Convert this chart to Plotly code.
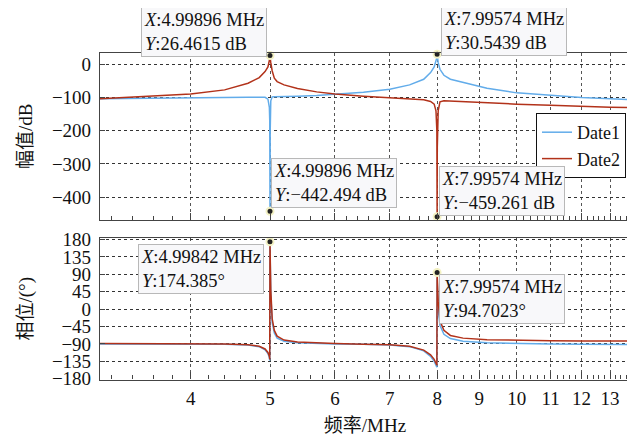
import math
import plotly.graph_objects as go
from plotly.subplots import make_subplots

# ---------------- data ----------------
freq_mhz = [3.1, 3.5, 4.0, 4.4, 4.7, 4.85, 4.93, 4.97, 4.99, 4.995, 4.99842, 4.99896,
            5.002, 5.01, 5.03, 5.06, 5.1, 5.2, 5.4, 5.7, 6.0, 6.5, 7.0, 7.4, 7.7,
            7.85, 7.93, 7.97, 7.99, 7.99574, 8.0, 8.02, 8.06, 8.15, 8.3, 8.6, 9.2,
            10.0, 11.0, 12.0, 13.0, 13.75]

mag_date1 = [-104, -102, -100, -99.5, -99, -99, -99.5, -105, -130, -170, -300, -442.494,
             -200, -110, -98, -97.5, -97.5, -97, -96, -94, -90, -84, -75, -62, -45,
             -25, -8, 8, 20, 30.5439, 20, 5, -15, -33, -45, -55, -72,
             -86, -94, -100, -104, -106]

mag_date2 = [-104, -98, -89.5, -77, -57, -40, -22, -8, 8, 17, 24, 26.4615,
             18, 5, -20, -42, -52, -62, -73, -83, -89.5, -96, -101, -104, -107,
             -112, -120, -140, -200, -459.261, -250, -140, -113, -110, -111, -113, -116,
             -120, -123, -127, -129, -130]

phase_date1 = [-90, -90, -90.5, -91, -93, -97, -105, -115, -125, -133, 168, 163,
               120, 40, -35, -62, -75, -83, -87, -89, -90, -91, -93, -97, -108,
               -122, -135, -145, -150, 80, 60, 0, -42, -65, -76, -83, -87,
               -89, -90, -91, -91, -91.5]

phase_date2 = [-89, -89, -89.5, -90, -92, -96, -103, -112, -122, -130, 174.385, 168,
               125, 50, -25, -55, -70, -80, -85, -87.5, -89, -90.5, -92, -96, -106,
               -118, -130, -140, -145, 94.7023, 75, 20, -30, -55, -68, -75, -79,
               -81, -82, -82.5, -82.5, -82.5]

# data tips (frequency, value, panel, text)
tip_freq = [4.99896, 7.99574, 4.99896, 7.99574, 4.99842, 7.99574]
tip_value = [26.4615, 30.5439, -442.494, -459.261, 174.385, 94.7023]
tip_panel = [1, 1, 1, 1, 2, 2]
tip_text = ["<i>X</i>:4.99896 MHz<br><i>Y</i>:26.4615 dB",
            "<i>X</i>:7.99574 MHz<br><i>Y</i>:30.5439 dB",
            "<i>X</i>:4.99896 MHz<br><i>Y</i>:\u2212442.494 dB",
            "<i>X</i>:7.99574 MHz<br><i>Y</i>:\u2212459.261 dB",
            "<i>X</i>:4.99842 MHz<br><i>Y</i>:174.385\u00b0",
            "<i>X</i>:7.99574 MHz<br><i>Y</i>:94.7023\u00b0"]

x_ticks = [4, 5, 6, 7, 8, 9, 10, 11, 12, 13]
mag_ticks = [0, -100, -200, -300, -400]
phase_ticks = [180, 135, 90, 45, 0, -45, -90, -135, -180]
series_names = ["Date1", "Date2"]

# ---------------- style ----------------
BLUE = "#62ACEA"
RED = "#B2321A"
FONT = "Liberation Serif, Noto Sans CJK SC"
FS = 19
# the page body adds an 8 px offset, so the figure is 8 px smaller on each axis
W, H = 627, 431

fig = make_subplots(rows=2, cols=1, shared_xaxes=False)

fig.add_trace(go.Scatter(x=freq_mhz, y=mag_date1, mode="lines", name=series_names[0],
                         line=dict(color=BLUE, width=1.5)), row=1, col=1)
fig.add_trace(go.Scatter(x=freq_mhz, y=mag_date2, mode="lines", name=series_names[1],
                         line=dict(color=RED, width=1.5)), row=1, col=1)
fig.add_trace(go.Scatter(x=freq_mhz, y=phase_date1, mode="lines", showlegend=False,
                         line=dict(color=BLUE, width=1.5)), row=2, col=1)
fig.add_trace(go.Scatter(x=freq_mhz, y=phase_date2, mode="lines", showlegend=False,
                         line=dict(color=RED, width=1.5)), row=2, col=1)

for p in (1, 2):
    fx = [f for f, pp in zip(tip_freq, tip_panel) if pp == p]
    fy = [v for v, pp in zip(tip_value, tip_panel) if pp == p]
    fig.add_trace(go.Scatter(x=fx, y=fy, mode="markers", showlegend=False, cliponaxis=False,
                             marker=dict(color="#222222", size=7,
                                         line=dict(color="#F4F2C4", width=2))),
                  row=p, col=1)

# annotation placement (style only)
place = [("right", "bottom", -3, -1),
         ("left", "bottom", 4, -2),
         ("left", "bottom", 1, 3),
         ("left", "bottom", 2, 1),
         ("right", "top", -6, -2),
         ("left", "top", 2, -1)]
for f, v, p, t, (xa, ya, xs, ys) in zip(tip_freq, tip_value, tip_panel, tip_text, place):
    fig.add_annotation(x=math.log10(f), y=v, xref="x" if p == 1 else "x2",
                       yref="y" if p == 1 else "y2", text=t, showarrow=False,
                       xanchor=xa, yanchor=ya, xshift=xs, yshift=ys, align="left",
                       font=dict(family=FONT, size=18.5, color="#111111"),
                       bgcolor="#F8F8FA", bordercolor="#B8B8B8", borderwidth=1, borderpad=2)

minor_vals = [round(3.2 + 0.2 * i, 1) for i in range(53)]
minor_vals = [m for m in minor_vals if abs(m - round(m)) > 1e-6]

xrange = [math.log10(3.1), math.log10(13.75)]
common_x = dict(type="log", range=xrange, tickvals=x_ticks, ticktext=[str(t) for t in x_ticks],
                showline=True, mirror=True, linecolor="#444444", linewidth=1.2,
                ticks="inside", ticklen=7, tickcolor="#444444",
                showgrid=True, gridcolor="#555555", griddash="dot", gridwidth=1,
                zeroline=False, automargin=False,
                minor=dict(tickvals=minor_vals, ticks="inside", ticklen=4, tickcolor="#444444",
                           showgrid=False),
                tickfont=dict(family=FONT, size=FS, color="#111111"))
fig.update_xaxes(**common_x)
fig.update_xaxes(showticklabels=False, row=1, col=1)
fig.update_xaxes(ticklabelstandoff=2, title=dict(text="频率/MHz", standoff=10,
                 font=dict(family=FONT, size=FS, color="#111111")), row=2, col=1)

common_y = dict(showline=True, mirror=True, linecolor="#444444", linewidth=1.2,
                ticks="inside", ticklen=5, tickcolor="#444444",
                showgrid=True, gridcolor="#333333", griddash="dot", gridwidth=1,
                zeroline=False, automargin=False, ticklabelstandoff=4,
                tickfont=dict(family=FONT, size=FS, color="#111111"))
fig.update_yaxes(**common_y)
fig.update_yaxes(range=[-469, 35], tickvals=mag_ticks,
                 title=dict(text="幅值/dB", standoff=14,
                            font=dict(family=FONT, size=FS, color="#111111")),
                 domain=[1 - 212 / H, 1 - 44.7 / H], row=1, col=1)
fig.update_yaxes(range=[-182, 184], tickvals=phase_ticks,
                 title=dict(text="相位/(°)", standoff=14,
                            font=dict(family=FONT, size=FS, color="#111111")),
                 domain=[1 - 371.5 / H, 1 - 230 / H], row=2, col=1)

fig.update_layout(width=W, height=H, margin=dict(l=92, r=5, t=0, b=0, autoexpand=False),
                  paper_bgcolor="white", plot_bgcolor="white",
                  font=dict(family=FONT, size=FS, color="#111111"),
                  showlegend=True,
                  legend=dict(x=1 - 4 / 530, xanchor="right", y=1 - 105 / H, yanchor="top",
                              bordercolor="#111111", borderwidth=1, bgcolor="white",
                              font=dict(family=FONT, size=18, color="#111111"),
                              tracegroupgap=0, itemwidth=30))

fig.write_html("out.html")
